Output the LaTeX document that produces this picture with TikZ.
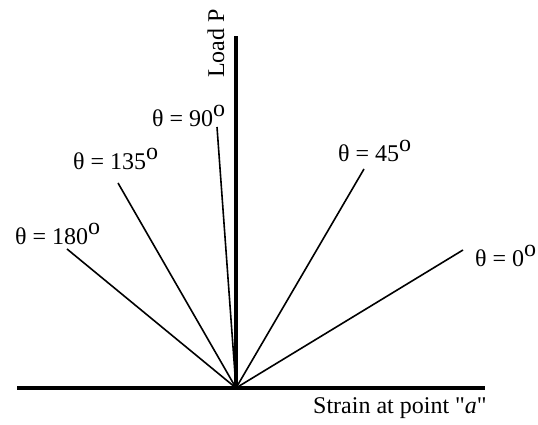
\documentclass[tikz,border=0pt]{standalone}
\usepackage{fontspec}
\setmainfont{Liberation Serif}
\newfontfamily\plainfont{Liberation Serif}[Ligatures=ResetAll]
\newcommand{\dg}{\raisebox{10pt}{o}}
\newcommand{\sq}{{\plainfont\symbol{"22}}}
\begin{document}
\begin{tikzpicture}[x=1pt,y=1pt,
  axisline/.style={line width=3.6pt},
  curveline/.style={line width=1.6pt},
  lbl/.style={inner sep=0pt,anchor=base west,font=\fontsize{24}{28}\selectfont}]
\useasboundingbox (0,0) rectangle (538,425);
\coordinate (O) at (236,37);
\coordinate (Vt) at (236,389);
\coordinate (Hl) at (17,37);
\coordinate (Hr) at (485,37);
\draw[axisline] (Hl) -- (Hr);
\draw[axisline] (O) -- (Vt);
\coordinate (e90) at (217,298);
\coordinate (e135) at (118,242);
\coordinate (e180) at (67,176);
\coordinate (e45) at (364,256);
\coordinate (e0) at (463,175);
\draw[curveline] (O) -- (e90);
\draw[curveline] (O) -- (e135);
\draw[curveline] (O) -- (e180);
\draw[curveline] (O) -- (e45);
\draw[curveline] (O) -- (e0);
\node[lbl] (t90) at (152,298) {θ = 90\dg};
\node[lbl] (t135) at (73,255) {θ = 135\dg};
\node[lbl] (t180) at (15,180) {θ = 180\dg};
\node[lbl] (t45) at (338,263) {θ = 45\dg};
\node[lbl] (t0) at (475,158) {θ = 0\dg};
\node[lbl] (strain) at (313,11) {Strain at point \sq\textit{a}\sq};
\node[lbl,rotate=90] (load) at (224,347) {Load P};
\end{tikzpicture}
\end{document}
